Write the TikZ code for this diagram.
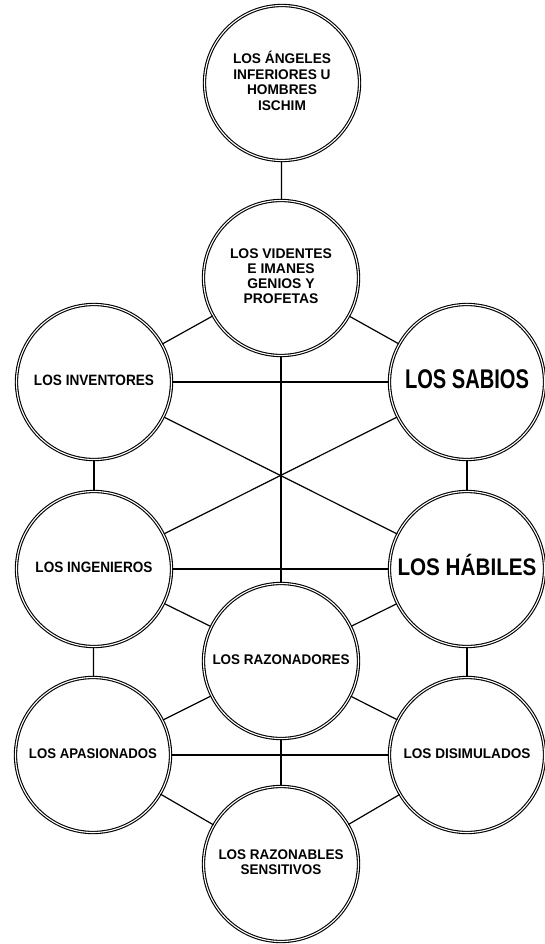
\documentclass[tikz,border=0pt]{standalone}
\usepackage{fontspec}
\usepackage{graphicx}
\setmainfont{Liberation Sans}
\newcommand\lbl[4]{\resizebox{#3}{\height}{\fontsize{#1}{#2}\selectfont\bfseries\begin{tabular}{@{}c@{}}#4\end{tabular}}}
\begin{document}
\begin{tikzpicture}[x=1pt,y=-1pt,
  ring/.style={circle, draw, double, line width=1.1pt, double distance=1.1pt,
    minimum size=155pt, inner sep=0pt, align=center},
  link/.style={line width=1.2pt}]
\useasboundingbox[fill=white] (0,0) rectangle (545,944);
\node[ring] (ang) at (282,83)  {\lbl{14}{15.5}{98pt}{LOS ÁNGELES\\INFERIORES U\\HOMBRES\\ISCHIM}};
\node[ring] (vid) at (281,278) {\lbl{14}{15}{102pt}{LOS VIDENTES\\E IMANES\\GENIOS Y\\PROFETAS}};
\node[ring] (inv) at (94,382)  {\lbl{15}{18}{120pt}{LOS INVENTORES}};
\node[ring] (sab) at (467,382) {\lbl{27}{30}{124pt}{LOS SABIOS}};
\node[ring] (ing) at (94,569)  {\lbl{15}{18}{117pt}{LOS INGENIEROS}};
\node[ring] (hab) at (467,569) {\lbl{24}{28}{139pt}{LOS HÁBILES}};
\node[ring] (raz) at (281,661) {\lbl{14}{16}{137pt}{LOS RAZONADORES}};
\node[ring] (apa) at (93,755)  {\lbl{14}{16}{128pt}{LOS APASIONADOS}};
\node[ring] (dis) at (467,755) {\lbl{14}{16}{127pt}{LOS DISIMULADOS}};
\node[ring] (sen) at (281,864) {\lbl{14}{15}{125pt}{LOS RAZONABLES\\SENSITIVOS}};
\draw[link] (ang) -- (vid);
\draw[link] (vid) -- (inv);
\draw[link] (vid) -- (sab);
\draw[link] (vid) -- (raz);
\draw[link] (inv) -- (sab);
\draw[link] (inv) -- (hab);
\draw[link] (sab) -- (ing);
\draw[link] (inv) -- (ing);
\draw[link] (sab) -- (hab);
\draw[link] (ing) -- (hab);
\draw[link] (ing) -- (raz);
\draw[link] (hab) -- (raz);
\draw[link] (ing) -- (apa);
\draw[link] (hab) -- (dis);
\draw[link] (apa) -- (raz);
\draw[link] (dis) -- (raz);
\draw[link] (apa) -- (dis);
\draw[link] (raz) -- (sen);
\draw[link] (apa) -- (sen);
\draw[link] (dis) -- (sen);
\end{tikzpicture}
\end{document}
